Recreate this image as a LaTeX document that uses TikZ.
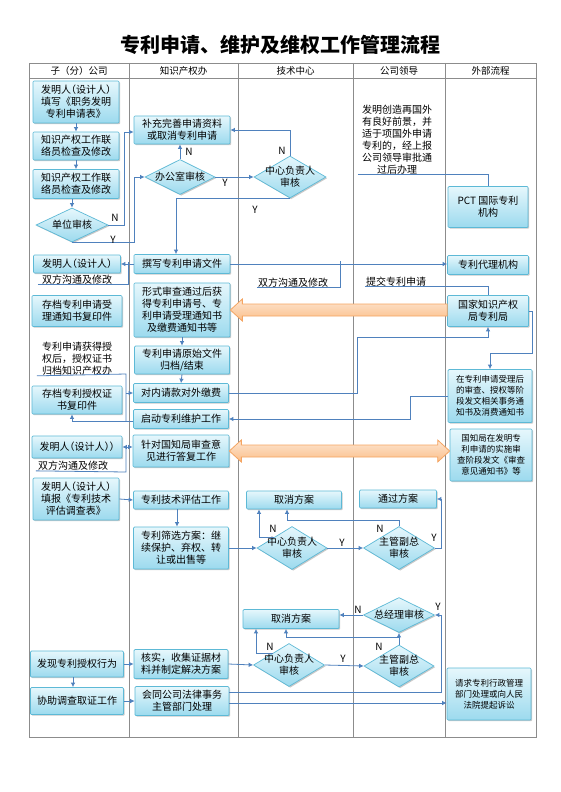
\documentclass[tikz,border=0pt]{standalone}
\usepackage{fontspec}
\setmainfont{Noto Sans CJK SC}
\newcommand\lpar{{\addfontfeature{RawFeature=+halt}（}}
\newcommand\rpar{{\addfontfeature{RawFeature=+halt}）}}
\usetikzlibrary{shapes.geometric,arrows.meta,shadows,calc}
\definecolor{boxline}{HTML}{5DB9D6}
\definecolor{boxtop}{HTML}{E6F7FC}
\definecolor{boxbot}{HTML}{9CDAEE}
\definecolor{conncol}{HTML}{4F81BD}
\definecolor{gridcol}{HTML}{8C8C8C}
\definecolor{orline}{HTML}{F5A562}
\definecolor{ortop}{HTML}{FDE6D2}
\definecolor{orbot}{HTML}{FBBE88}
\tikzset{
  shad/.style={drop shadow={shadow xshift=1.2pt,shadow yshift=-1.2pt,fill=black!35,opacity=0.6}},
  box/.style={rectangle,draw=boxline,line width=0.7pt,top color=boxtop,bottom color=boxbot,
    rounded corners=1pt,align=center,inner sep=1pt,font=\fontsize{10}{12}\selectfont,shad},
  sbox/.style={box,font=\fontsize{8.5}{11}\selectfont},
  dia/.style={diamond,draw=boxline,line width=0.7pt,top color=boxtop,bottom color=boxbot,inner sep=0pt,shad},
  dtext/.style={align=center,font=\fontsize{10}{12}\selectfont,inner sep=0pt},
  sz/.style 2 args={minimum width=#1pt,minimum height=#2pt},
  lbl/.style={align=center,font=\fontsize{10}{12}\selectfont,inner sep=0pt},
  yn/.style={font=\fontsize{10}{12}\selectfont,inner sep=0pt},
  hdr/.style={font=\fontsize{9.5}{11}\selectfont,inner sep=0pt},
  conn/.style={draw=conncol,line width=0.8pt,-{Latex[length=4.5pt,width=4.5pt]}},
  conn2/.style={draw=conncol,line width=0.8pt,{Latex[length=4.5pt,width=4.5pt]}-{Latex[length=4.5pt,width=4.5pt]}},
  plain/.style={draw=conncol,line width=0.8pt},
  grid/.style={draw=gridcol,line width=0.9pt},
  orarrow/.style={draw=orline,line width=0.8pt,top color=ortop,bottom color=orbot}
}
\begin{document}
\begin{tikzpicture}[x=1pt,y=-1pt]
\useasboundingbox (0,0) rectangle (560,792);
\fill[white] (0,0) rectangle (560,792);
% title
\node[font=\fontsize{20}{24}\selectfont\bfseries] (title) at (280,45) {专利申请、维护及维权工作管理流程};
% grid
\draw[grid] (29,63) rectangle (536,737);
\draw[grid] (29,78) -- (536,78);
\foreach \xx in {129,238,353,445} \draw[grid] (\xx,63) -- (\xx,737);
\node[hdr] (h1) at (79,71) {子（分）公司};
\node[hdr] (h2) at (183.5,71) {知识产权办};
\node[hdr] (h3) at (295.5,71) {技术中心};
\node[hdr] (h4) at (399,71) {公司领导};
\node[hdr] (h5) at (490.5,71) {外部流程};

% column 1
\node[box,sz={86}{42}] (A1) at (76,102) {发明人\lpar 设计人\rpar\\填写《职务发明\\专利申请表》};
\node[box,sz={86}{28}] (A2) at (76,146) {知识产权工作联\\络员检查及修改};
\node[box,sz={86}{29}] (A3) at (76,184) {知识产权工作联\\络员检查及修改};
\node[dia,sz={72}{34},label={[dtext]center:单位审核}] (D1) at (72,225) {};
\node[box,sz={87}{18}] (A4) at (77,264) {发明人\lpar 设计人\rpar};
\node[lbl] (L1) at (77,280) {双方沟通及修改};
\node[box,sz={90}{31}] (A5) at (77,311) {存档专利申请受\\理通知书复印件};
\node[lbl] (L4) at (77,359) {专利申请获得授\\权后，授权证书\\归档知识产权办};
\node[box,sz={90}{28}] (A6) at (77,400) {存档专利授权证\\书复印件};
\node[box,sz={90}{22}] (A7) at (77,447) {发明人\lpar 设计人\rpar\rpar};
\node[lbl] (L5) at (73,466) {双方沟通及修改};
\node[box,sz={86}{42}] (A8) at (76,499) {发明人\lpar 设计人\rpar\\填报《专利技术\\评估调查表》};
\node[box,sz={93}{26}] (A9) at (77,664) {发现专利授权行为};
\node[box,sz={93}{27}] (A10) at (77,701) {协助调查取证工作};

% column 2
\node[box,sz={96}{28}] (B1) at (182,130) {补充完善申请资料\\或取消专利申请};
\node[dia,sz={70}{35},label={[dtext]center:办公室审核}] (D2) at (180,177) {};
\node[box,sz={96}{19}] (B2) at (182,264) {撰写专利申请文件};
\node[box,sz={96}{54}] (B3) at (182,310) {形式审查通过后获\\得专利申请号、专\\利申请受理通知书\\及缴费通知书等};
\node[box,sz={95}{28}] (B4) at (182,360) {专利申请原始文件\\归档/结束};
\node[box,sz={95}{19}] (B5) at (181,393) {对内请款对外缴费};
\node[box,sz={95}{19}] (B6) at (181,419) {启动专利维护工作};
\node[box,sz={96}{32}] (B7) at (181,451) {针对国知局审查意\\见进行答复工作};
\node[box,sz={95}{18}] (B8) at (181,500) {专利技术评估工作};
\node[box,sz={95}{42}] (B9) at (181,548) {专利筛选方案：继\\续保护、弃权、转\\让或出售等};
\node[box,sz={94}{29}] (B10) at (181,664) {核实，收集证据材\\料并制定解决方案};
\node[box,sz={94}{29}] (B11) at (182,701) {会同公司法律事务\\主管部门处理};

% column 3
\node[dia,sz={72}{42},label={[dtext]center:中心负责人\\审核}] (D3) at (290,177) {};
\node[lbl] (L2) at (293,283) {双方沟通及修改};
\node[box,sz={95}{18}] (C1) at (294,500) {取消方案};
\node[dia,sz={70}{43},label={[dtext]center:中心负责人\\审核}] (D4) at (292,548) {};
\node[box,sz={96}{19}] (C3) at (291,619) {取消方案};
\node[dia,sz={71}{43},label={[dtext]center:中心负责人\\审核}] (D6) at (289,665) {};

% column 4
\node[lbl] (L6) at (397,140) {发明创造再国外\\有良好前景，并\\适于项国外申请\\专利的，经上报\\公司领导审批通\\过后办理};
\node[lbl] (L3) at (396,282) {提交专利申请};
\node[box,sz={77}{18}] (C2) at (398,499) {通过方案};
\node[dia,sz={71}{43},label={[dtext]center:主管副总\\审核}] (D5) at (399,548) {};
\node[dia,sz={71}{35},label={[dtext]center:总经理审核}] (D8) at (399,615) {};
\node[dia,sz={70}{42},label={[dtext]center:主管副总\\审核}] (D7) at (399,666) {};

% column 5
\node[box,sz={80}{41}] (E1) at (488,207) {PCT 国际专利\\机构};
\node[box,sz={81}{19}] (E2) at (488,265) {专利代理机构};
\node[box,sz={81}{31}] (E3) at (488,311) {国家知识产权\\局专利局};
\node[sbox,sz={84}{53}] (E4) at (490,396) {在专利申请受理后\\的审查、授权等阶\\段发文相关事务通\\知书及消费通知书};
\node[sbox,sz={82}{52}] (E5) at (491,455) {国知局在发明专\\利申请的实施审\\查阶段发文《审查\\意见通知书》等};
\node[sbox,sz={84}{52}] (E6) at (489,694) {请求专利行政管理\\部门处理或向人民\\法院提起诉讼};

% orange arrows
\draw[orarrow] (B3.east) -- ++(12,-11) -- ++(0,5) -- ($(B3.east -| E3.west)+(0,-6)$) -- ++(0,12)
  -- ($(B3.east)+(12,6)$) -- ++(0,5) -- cycle;
\draw[orarrow] (B7.east) -- ++(12,-11) -- ++(0,5) -- ($(B7.east -| E5.west)+(-12,-6)$) -- ++(0,-5)
  -- (B7.east -| E5.west) -- ++(-12,11) -- ++(0,-5) -- ($(B7.east)+(12,6)$) -- ++(0,5) -- cycle;

% connectors column 1 top
\draw[conn] (A1.south) -- (A2.north);
\draw[conn] (A2.south) -- (A3.north);
\draw[conn] ([xshift=-4pt]A3.south) -- ([xshift=-4pt]A3.south |- D1.north);
\draw[conn] (D1.east) -- ++(16,0) |- ([yshift=-2pt]B1.west);
\draw[conn] (D1.south) -- ++(62,0) |- (D2.west);
\node[yn] (n1) at (115,218) {N};
\node[yn] (y1) at (113,240) {Y};
\draw[conn] (D2.north) -- (D2.north |- B1.south);
\node[yn] (n2) at (189,152) {N};
\draw[conn] (D2.east) -- (D3.west);
\node[yn] (y2) at (225,183) {Y};
\draw[conn] (D3.north) |- (B1.east);
\node[yn] (n3) at (282,151) {N};
\draw[conn] (D3.south) -| ([xshift=-6pt]B2.north);
\node[yn] (y3) at (255,210) {Y};

% second block
\draw[conn] (B2.west) -- (A4.east);
\draw[plain] ([xshift=-4pt]L1.south west) -- ++(91,0) -- ++(0,-23);
\draw[conn] (B2.east) -- (B2.east -| E2.west);
\draw[plain] ([xshift=-1pt]L2.south west) -- ++(84,0) -- ++(0,-27);
\draw[plain] ([xshift=-1pt]L3.south west) -| (E3.north);
\draw[plain] ([xshift=-4pt]L6.south west) -| (E1.north);
\draw[conn] (B3.south) -- (B4.north);
\draw[conn] (B4.south) -- (B5.north);
\draw[conn] (B5.east) -| (357,337) -| (E3.south);
\draw[conn] (E3.east) -| (532,353) -| (E4.north);
\draw[conn] (E4.west) -| (410,419) -- (B6.east);
\draw[plain] ([xshift=-5pt]L4.south west) -- (126,374) -- (126,421);
\draw[conn] (126,393) -- (B5.west);
\draw[conn] ([yshift=-2pt]B6.west) -| ([xshift=-5pt]A6.south);
\draw[conn2] (A7.east) -- (A7.east -| B7.west);
\draw[plain] ([xshift=-2pt]L5.south west) -- (126,472) -- (126,447);

% evaluation block
\draw[conn] (A8.east) -- (B8.west);
\draw[conn] ([xshift=-4pt]B8.south) -- ([xshift=-4pt]B8.south |- B9.north);
\draw[conn] (B9.east) -- (D4.west);
\draw[conn] ($(D4.west)!0.5!(D4.north)$) -| ([xshift=-35pt]C1.south);
\node[yn] (n4) at (273,529) {N};
\draw[conn] (D4.east) -- (D5.west);
\node[yn] (y4) at (342,543) {Y};
\draw[conn] (D5.north) -- ++(0,-6) -| ([xshift=-7pt]C1.south);
\node[yn] (n5) at (380,529) {N};
\draw[conn] (D5.east) -- ++(7,0) |- (C2.east);
\node[yn] (y5) at (434,538) {Y};

% infringement block
\draw[conn] ([xshift=-4pt]A9.south) -- ([xshift=-4pt]A9.south |- A10.north);
\draw[conn] (A9.east) -- (A9.east -| B10.west);
\draw[conn] (A10.east) -- (A10.east -| B11.west);
\draw[conn] (B10.east) -- (D6.west);
\draw[conn] ($(D6.west)!0.55!(D6.north)$) -| ([xshift=-35pt]C3.south);
\node[yn] (n6) at (270,647) {N};
\draw[conn] (D6.east) -- (D7.west);
\node[yn] (y6) at (343,659) {Y};
\draw[conn] (D7.north) -- (D8.south);
\draw[conn] ([yshift=7pt]D7.north) -| ([xshift=-5pt]C3.south);
\node[yn] (n7) at (379,647) {N};
\draw[conn] (D8.west) -- (D8.west -| C3.east);
\node[yn] (n8) at (358,610) {N};
\draw[conn] ([yshift=9pt]B11.east) -| ([xshift=7pt]D8.east) -- (D8.east);
\node[yn] (y8) at (438,607) {Y};
\draw[conn] ([yshift=-2pt]B11.east) -- ([yshift=-2pt]B11.east -| E6.west);
\end{tikzpicture}
\end{document}
